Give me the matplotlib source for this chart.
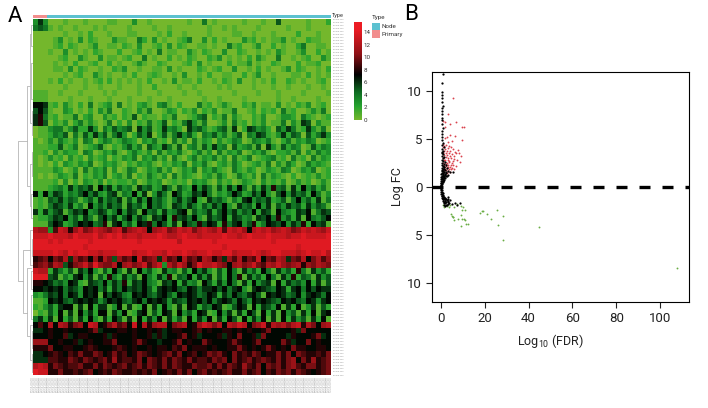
import numpy as np
import matplotlib
matplotlib.use('Agg')
import matplotlib.pyplot as plt
from matplotlib.colors import LinearSegmentedColormap, ListedColormap

plt.rcParams['font.family'] = ['Roboto', 'DejaVu Sans']
plt.rcParams['mathtext.default'] = 'regular'

W, H = 708, 408

# heatmap values, one hex digit per cell
heat_rows = [
    "363000100010000110003001000000010040100000100010050000010002",
    "454101001000101000010000100100000001001010000100000100010000",
    "000000100102000100011000010200100001000011001000100002000100",
    "000013010302100031100420301001240030201000312010113010021100",
    "000012021001300110210300120302100110100412001300201002400110",
    "000100301010210002001201040110031021003002100101031001300201",
    "000001200310030110120040100201021002130101020310040010120031",
    "000010102001200201001310021000120301000201130100210002011200",
    "000011030210010021300100110301000210120030010201001302100102",
    "000000101200310100102001210010300102001100201300100011020101",
    "000102010010120201010102001030110200102103001010200210100120",
    "000000100010010001000100200001001000010100001000100100010010",
    "111001000100001010000100010000100100000010000100010000100001",
    "111000010001000100010001000100000010010000100000010010000100",
    "776120310204012304010231034102000412013100213011030102130120",
    "575100320102031400210314001320213021301140012021204120013140",
    "684120114023003120215021102140012450214031002130013320421012",
    "685021302413101402030214125021463140013041202130114031650311",
    "011344135226304253450635126342064531245160265342053641263140",
    "011243504152635146302536025146352043524135043652136254052463",
    "101314213043024312432032412041304132031243014324102413243012",
    "111225124012351021352405326415034152634052341506315243015243",
    "112031322043013241024213041324102413041324013241022314031423",
    "101312031203123021324032413041024132413041240123412041204132",
    "101020321324013231021323102132403241023142012314031420142321",
    "111132013041324030143013241301324032421042132013214301324012",
    "101013214021324023140214213041321023142014213041321020121312",
    "111120302032130212213013230121203231031201321031213013120131",
    "111234263546174625341645236415327364152637415263845162735241",
    "727365243574632561437260364175236574132475236473157364527413",
    "121546354135263546152637453146357216453142673546235147352614",
    "121465362417353645164527453165364253647316452736153645263541",
    "626356146573465247365174526346715346257463547265174326571465",
    "122465735264157462573641657285647316457265341657483526174357",
    "111576235767458167352768475261754857628467358247657364827561",
    "cbb39dc8bdabdcbacd9bcdc7bcdabdcdacdcbd9dcdb7cdcdbcdcabdcdcbd",
    "dddedddcedddecdedecddcdddedccdeddcddddeddcdedddedddcddedddde",
    "eeededeeeeedeeeeeeeeedeeeeeeeceeeeeedeeeeeeeeeeedeeeeeeeeeee",
    "eeeeeeeeeedeeeeeeeeeeeeeeeeeeeeeeeeeeedeeeeeeeeeeeeeedeeeeee",
    "ddddedcedeeddcdddeeecddeddceddedcddeddeecdddedcdeedddcdeddec",
    "89a7a9c6b9a7b8ca5b9a7d9ab6c9a7c9a8cb8a6b9c8a9d7a9cb6a9c7ac9b",
    "9ab9cb58abdaebaac7bcabd9bd3cadb8aeccdba7bcabda9cbdbabc8bacba",
    "dcc264251647315274161735216341527463152741635274163528416352",
    "eee561426736152842635174263815472636152748163527416382541635",
    "887645376216547364826574316572634175263741627356172645372615",
    "776767465376746264756575267675476466757467316765476267475766",
    "324657476376717576437675467537676457626475467517676457367647",
    "112767546767635767546747676365476757467647537676547675476367",
    "213526771617266137161271627316176254761257617265371627136152",
    "021527161736277163712671527617352761273616275172617351627167",
    "462617251627316275161726371625172637162751726371617263516271",
    "797c7cb8ab7dc78ac9a7d7c8bcc7abc78bdcac7cbdc7abd8cbcacd8ca7bc",
    "667877877778a6777887877878678877897877887878778a777786a77777",
    "777877967887778687778778686778a7867778687a7786a7777687778a67",
    "bbb7787786787788a7778a8776778a7877a87778a8778a7777a8677a7877",
    "888a77887789877789878778788798a7888787788a87878a8787a8877887",
    "667898798a88a978a8978a98789a8a78978a9a87a898a9788a8a7a98898a",
    "6669988a98a989a8b8998a7a98a8a98a8998a9a7a89a89a98a8ab7a8b89a",
    "cdc8a9899a88a8a989a89a8a98a8a988a99a8a8a98b98a7a9a8ab98aa89a",
    "edd88a88989a7898a9889898a7898a8a79a8989a88a89a798a9a8a98789a",
]

colorbar_ticks = [0, 2, 4, 6, 8, 10, 12, 14]
colorbar_max = 15.6
cmap_levels = [0, 2.2, 4.5, 7.2, 10.5, 14.5]
cmap_colors = ['#74b72c', '#25a32f', '#0e6a22', '#000000', '#8e1116', '#ec1c24']

type_counts = [5, 105]
type_colors = ['#f28e8e', '#5cc1d0']
legend_names = ['Node', 'Primary']
legend_colors = ['#5cc1d0', '#f28e8e']

# tiny grey labels are unreadable in the picture, placeholder text only
row_label = 'hsa-mir-000'
col_label = 'TCGA-00-00'
n_row_labels = 119
n_col_labels = 110

# dendrogram merges: top row, top child height, bottom row, bottom child height, height
dendro = [
    (20.0, 6.4, 43.6, 10.0, 15.0),
    (10.8, 3.0, 27.7, 3.0, 6.4),
    (38.4, 3.0, 49.0, 6.0, 10.0),
    (2.0, 1.6, 17.0, 2.0, 3.0),
    (24.0, 1.5, 31.0, 2.0, 3.0),
    (41.5, 2.0, 53.0, 3.0, 6.0),
    (35.0, 1.0, 41.0, 1.5, 3.0),
    (46.0, 1.0, 50.0, 1.0, 2.0),
    (51.0, 1.5, 57.0, 1.5, 3.0),
    (0.5, 0.0, 4.0, 1.0, 1.6),
    (7.0, 0.5, 13.0, 1.0, 2.0),
    (15.0, 0.5, 19.0, 0.0, 1.0),
    (22.0, 0.5, 26.0, 0.0, 1.5),
    (29.0, 0.5, 33.0, 0.0, 2.0),
    (36.5, 0.0, 39.5, 0.0, 1.0),
    (42.0, 0.0, 45.0, 0.0, 2.0),
    (52.0, 0.0, 55.0, 0.0, 1.5),
    (56.0, 0.0, 59.0, 0.0, 1.5),
]

# volcano plot, x is log10 FDR, y is log FC (lower half drawn negative, labelled positive)
black_x = [0.8, 0.6, 0.4, 0.4, 0.5, 0.6, 0.7, 0.3, 0.4, 0.5, 0.3, 0.6, 0.4, 0.7, 0.3, 0.5,
           0.4, 0.6, 0.9, 0.3, 1.2, 0.5, 0.8, 0.3, 0.6, 1.0, 0.4, 1.4, 0.7, 0.3, 1.0, 1.7,
           0.5, 1.3, 0.3, 2.1, 0.8, 1.6, 0.3, 2.6, 1.1, 0.6, 2.0, 3.2, 0.3, 1.4, 0.8, 2.4,
           4.2, 5.6, 0.2, 1.0, 1.8, 3.0, 0.5, 1.3, 2.2, 0.2, 0.8, 1.5, 2.6, 0.1, 0.5, 1.1,
           1.8, 0.1, 0.3, 0.7, 1.2, 0.05, 0.2, 0.5, 0.8, 0.05, 0.1, 0.3,
           0.05, 0.1, 0.3, 0.1, 0.4, 0.7, 0.2, 0.6, 1.0, 0.3, 0.8, 1.4, 0.5, 1.1, 1.8, 0.7,
           1.4, 2.2, 1.0, 1.7, 2.6, 3.2, 1.2, 2.0, 3.0, 4.0, 1.5, 2.4, 3.4, 1.8, 2.7, 3.6,
           5.0, 6.2, 7.4, 8.6, 2.0, 3.0, 1.6, 2.4, 3.0,
           0.4, 0.8, 1.2, 1.6, 0.3, 0.7, 1.1, 0.9, 1.3, 1.9, 2.3, 0.6, 1.0, 1.5, 2.0]
black_y = [11.8, 10.9, 9.9, 9.6, 9.3, 8.9, 8.5, 8.2, 7.9, 7.6, 7.2, 7.0, 6.6, 6.2, 5.8, 5.5,
           5.2, 4.9, 4.6, 4.4, 4.2, 4.0, 3.8, 3.7, 3.5, 3.4, 3.2, 3.1, 3.0, 2.8, 2.7, 2.6,
           2.5, 2.4, 2.3, 2.3, 2.2, 2.1, 2.0, 2.0, 1.9, 1.8, 1.8, 1.7, 1.7, 1.6, 1.5, 1.5,
           1.6, 1.6, 1.4, 1.4, 1.3, 1.3, 1.2, 1.2, 1.2, 1.0, 1.0, 1.0, 1.1, 0.8, 0.8, 0.8,
           0.9, 0.6, 0.6, 0.6, 0.7, 0.4, 0.4, 0.4, 0.5, 0.2, 0.2, 0.3,
           -0.2, -0.3, -0.3, -0.5, -0.5, -0.6, -0.7, -0.7, -0.8, -0.9, -0.9, -1.0, -1.1, -1.1, -1.1, -1.3,
           -1.3, -1.2, -1.5, -1.5, -1.4, -1.2, -1.7, -1.7, -1.6, -1.4, -1.9, -1.9, -1.8, -2.0, -1.9, -1.7,
           -1.8, -1.7, -1.9, -1.7, -1.3, -1.5, -1.1, -1.6, -1.0,
           1.5, 1.7, 1.9, 2.1, 0.9, 1.1, 1.3, 0.6, 0.9, 1.4, 1.6, -0.9, -1.3, -1.6, -1.2]

red_x = [5.3, 3.2, 1.1, 1.8, 4.3, 6.8, 9.6, 10.7, 1.7, 4.1, 2.6, 6.4, 1.8, 3.3, 5.2, 9.7, 1.0, 0.8,
         1.2, 2.4, 3.6, 4.8, 2.0, 3.1, 5.5, 7.8, 1.4, 2.8, 4.2, 6.3, 8.2, 1.1, 2.2, 3.5, 5.0, 6.8,
         1.6, 2.9, 4.1, 5.8, 9.0, 1.0, 2.4, 3.3, 4.6, 6.0, 1.3, 2.0, 3.0, 3.8, 5.3, 7.4, 1.1, 1.9,
         2.7, 3.6, 4.9, 8.6, 1.5, 2.3, 3.2, 4.4, 5.6, 1.2, 2.1, 3.0, 4.0, 5.1, 7.0, 1.8, 2.6, 3.5,
         4.7, 6.1, 1.4, 2.2, 3.3, 4.3, 1.6, 2.8]
red_y = [9.3, 7.6, 6.9, 6.8, 6.6, 6.8, 6.3, 6.25, 6.3, 5.4, 5.2, 5.3, 5.1, 4.7, 4.8, 4.9, 4.5, 4.2,
         4.3, 4.4, 4.3, 4.2, 4.0, 4.1, 4.0, 3.9, 3.8, 3.8, 3.8, 3.7, 3.6, 3.5, 3.6, 3.5, 3.4, 3.5,
         3.3, 3.3, 3.2, 3.2, 3.2, 3.0, 3.1, 3.0, 3.0, 2.9, 2.8, 2.8, 2.8, 2.7, 2.7, 2.8, 2.5, 2.6,
         2.5, 2.6, 2.5, 2.6, 2.3, 2.4, 2.3, 2.3, 2.3, 2.1, 2.2, 2.1, 2.1, 2.0, 2.2, 1.9, 2.0, 1.9,
         1.9, 1.9, 1.8, 1.8, 1.7, 1.6, 1.6, 1.5]

green_x = [0.8, 1.5, 2.6, 3.7, 4.1, 6.1, 7.2, 9.0, 9.9, 9.4, 11.0, 4.4, 4.9, 5.3, 5.9, 5.6, 7.9,
           9.1, 9.4, 10.5, 11.0, 9.1, 11.3, 12.5, 17.8, 18.6, 19.3, 20.9, 23.0, 25.4, 28.2, 25.9,
           28.5, 44.9, 107.9]
green_y = [1.88, 2.12, 1.98, 2.05, 1.88, 2.12, 1.77, 1.98, 2.12, 2.4, 2.4, 2.81, 2.99, 3.09, 3.44,
           3.16, 3.33, 2.92, 3.37, 3.37, 3.44, 4.03, 3.89, 3.82, 2.74, 2.47, 2.47, 2.85, 3.3, 2.4,
           3.02, 3.92, 5.52, 4.17, 8.44]

volcano_xticks = [0, 20, 40, 60, 80, 100]
volcano_yticks = [-10, -5, 0, 5, 10]


def box(x0, y0, x1, y1):
    # pixel box of the reference to figure fractions
    return [x0 / W, 1 - y1 / H, (x1 - x0) / W, (y1 - y0) / H]


matrix = np.array([[int(c, 16) for c in row.ljust(60, row[-1])[:60]] for row in heat_rows], dtype=float)
stops = [v / colorbar_max for v in cmap_levels] + [1.0]
heat_cmap = LinearSegmentedColormap.from_list('heat', list(zip(stops, cmap_colors + ['#ec1c24'])))

fig = plt.figure(figsize=(W / 100, H / 100), dpi=100)

# panel A heatmap
ax = fig.add_axes(box(33, 19, 331, 375))
ax.imshow(matrix, cmap=heat_cmap, vmin=0, vmax=colorbar_max, aspect='auto', interpolation='nearest')
for s in ax.spines.values():
    s.set_visible(False)
ax.yaxis.tick_right()
ax.set_yticks(np.linspace(-0.5, 59.5, n_row_labels))
ax.set_yticklabels([row_label] * n_row_labels, fontsize=1.5, color='#999999')
ax.set_xticks(np.linspace(-0.5, 59.5, n_col_labels))
ax.set_xticklabels([col_label] * n_col_labels, fontsize=2.2, color='#aaaaaa', rotation=90)
ax.tick_params(length=0, pad=1)

# type annotation bar
ax_type = fig.add_axes(box(33, 15, 331, 18))
ax_type.imshow([np.repeat([0, 1], type_counts)], cmap=ListedColormap(type_colors), aspect='auto',
               interpolation='nearest')
ax_type.axis('off')
fig.text(332 / W, 1 - 15 / H, 'Type', fontsize=4, va='center', ha='left', color='#333333')

# dendrogram
ax_den = fig.add_axes(box(15, 19, 33, 375))
for y1, h1, y2, h2, h in dendro:
    ax_den.plot([h1, h, h, h2], [y1, y1, y2, y2], color='#b5b5b5', lw=0.6)
ax_den.set_xlim(18, 0)
ax_den.set_ylim(59.5, -0.5)
ax_den.axis('off')

# colour bar
ax_cb = fig.add_axes(box(354, 22, 361, 120))
ax_cb.imshow(np.linspace(colorbar_max, 0, 256)[:, None], cmap=heat_cmap, vmin=0, vmax=colorbar_max,
             aspect='auto', extent=[0, 1, 0, colorbar_max])
ax_cb.set_xticks([])
ax_cb.yaxis.tick_right()
ax_cb.set_yticks(colorbar_ticks)
ax_cb.tick_params(length=0, labelsize=4.5, pad=2, labelcolor='#333333')
for s in ax_cb.spines.values():
    s.set_visible(False)

# type legend
fig.text(372 / W, 1 - 17 / H, 'Type', fontsize=4.5, va='center', color='#333333')
ax_leg = fig.add_axes(box(372, 22.5, 380, 38))
ax_leg.imshow([[0], [1]], cmap=ListedColormap(legend_colors), aspect='auto')
ax_leg.axis('off')
for i, name in enumerate(legend_names):
    fig.text(382 / W, 1 - (26.5 + 8 * i) / H, name, fontsize=4.5, va='center', color='#333333')

# panel B volcano
ax2 = fig.add_axes(box(432, 72, 689, 302))
ax2.scatter(green_x, -np.array(green_y), s=1.8, c='#6aad45', linewidths=0)
ax2.scatter(red_x, red_y, s=1.8, c='#d9434e', linewidths=0)
ax2.scatter(black_x, black_y, s=2.6, c='black', linewidths=0)
ax2.axhline(0, color='black', lw=2.4, dashes=(3.3, 3.6))
ax2.set_xlim(-4.1, 113.2)
ax2.set_ylim(-12, 12)
ax2.set_xticks(volcano_xticks)
ax2.set_yticks(volcano_yticks)
ax2.set_yticklabels([str(abs(v)) for v in volcano_yticks])
ax2.tick_params(labelsize=9.5, length=4, width=0.8, pad=3, colors='#222222')
for s in ax2.spines.values():
    s.set_linewidth(0.8)

fig.text(550 / W, 1 - 341 / H, 'Log$_{10}$ (FDR)', fontsize=9, ha='center', va='center', color='#222222')
fig.text(397 / W, 1 - 187 / H, 'Log FC', fontsize=9, ha='center', va='center', rotation=90, color='#222222')

fig.text(14.5 / W, 1 - 16 / H, 'A', fontsize=16, ha='center', va='center')
fig.text(411 / W, 1 - 14 / H, 'B', fontsize=16, ha='center', va='center')

fig.savefig('out.png', dpi=100, facecolor='white')
